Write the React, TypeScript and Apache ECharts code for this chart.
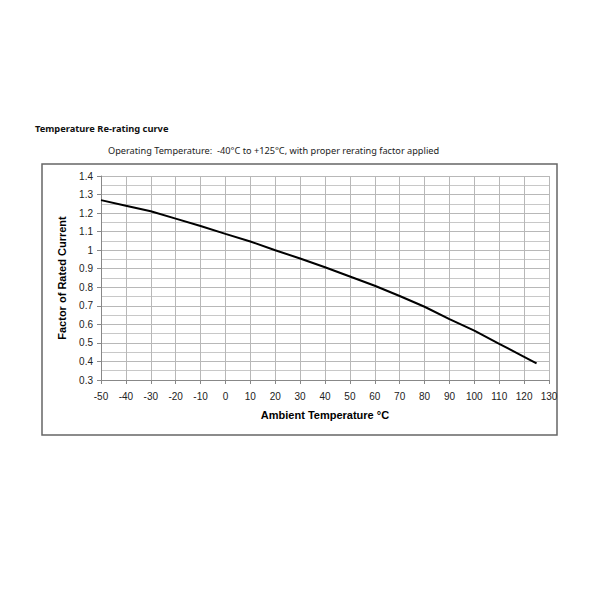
import React, { useEffect, useRef } from "react";
import * as echarts from "echarts";

const temperatures = [-50, -40, -30, -20, -10, 0, 10, 20, 30, 40, 50, 60, 70, 80, 90, 100, 110, 120, 125];
const factors = [1.27, 1.24, 1.21, 1.17, 1.13, 1.088, 1.047, 1.0, 0.955, 0.908, 0.858, 0.808, 0.753, 0.695, 0.628, 0.566, 0.495, 0.425, 0.39];

const chartTitle = "Temperature Re-rating curve";
const chartSubtitle = "Operating Temperature:  -40°C to +125°C, with proper rerating factor applied";
const xAxisName = "Ambient Temperature °C";
const yAxisName = "Factor of Rated Current";

export default function App() {
  const ref = useRef<HTMLDivElement>(null);
  useEffect(() => {
    if (!ref.current) return;
    const chart = echarts.init(ref.current, undefined, { renderer: "svg" });
    const data = temperatures.map((t, i) => [t, factors[i]]);
    chart.setOption({
      animation: false,
      backgroundColor: "#ffffff",
      graphic: [
        {
          type: "rect",
          shape: { x: 42, y: 164, width: 515, height: 271 },
          style: { fill: "none", stroke: "#666666", lineWidth: 1.5 },
          silent: true,
        },
        {
          type: "text",
          left: 35,
          top: 124,
          style: {
            text: chartTitle,
            font: "bold 9.3px 'Noto Sans', sans-serif",
            fill: "#111111",
          },
        },
        {
          type: "text",
          left: 108,
          top: 146,
          style: {
            text: chartSubtitle,
            font: "9.2px 'Noto Sans', sans-serif",
            fill: "#222222",
          },
        },
      ],
      grid: { left: 101, right: 51, top: 176, bottom: 220, containLabel: false },
      xAxis: {
        type: "value",
        min: -50,
        max: 130,
        interval: 10,
        name: xAxisName,
        nameLocation: "middle",
        nameGap: 29,
        nameTextStyle: { fontFamily: "Liberation Sans", fontWeight: "bold", fontSize: 11, color: "#000" },
        axisLine: { show: true, onZero: false, lineStyle: { color: "#888888", width: 1 } },
        axisTick: { show: true, length: 4, lineStyle: { color: "#888888" } },
        axisLabel: { fontFamily: "Liberation Sans", fontSize: 10, color: "#222", margin: 11 },
        splitLine: { show: true, lineStyle: { color: "#b8b8b8", width: 1 } },
      },
      yAxis: {
        type: "value",
        min: 0.3,
        max: 1.4,
        interval: 0.1,
        name: yAxisName,
        nameLocation: "middle",
        nameGap: 34,
        nameTextStyle: { fontFamily: "Liberation Sans", fontWeight: "bold", fontSize: 11, color: "#000" },
        axisLine: { show: true, onZero: false, lineStyle: { color: "#888888", width: 1 } },
        axisTick: { show: true, length: 4, lineStyle: { color: "#888888" } },
        axisLabel: { fontFamily: "Liberation Sans", fontSize: 10, color: "#222", margin: 8 },
        splitLine: { show: true, lineStyle: { color: "#b8b8b8", width: 1 } },
        minorTick: { show: false, splitNumber: 2 },
        minorSplitLine: { show: true, lineStyle: { color: "#c8c8c8", width: 1 } },
      },
      series: [
        {
          type: "line",
          data,
          showSymbol: false,
          symbol: "none",
          smooth: false,
          lineStyle: { color: "#000000", width: 2 },
        },
      ],
    });
    return () => chart.dispose();
  }, []);
  return (
    <div
      ref={ref}
      style={{ position: "fixed", left: 0, top: 0, width: 600, height: 600 }}
    />
  );
}
